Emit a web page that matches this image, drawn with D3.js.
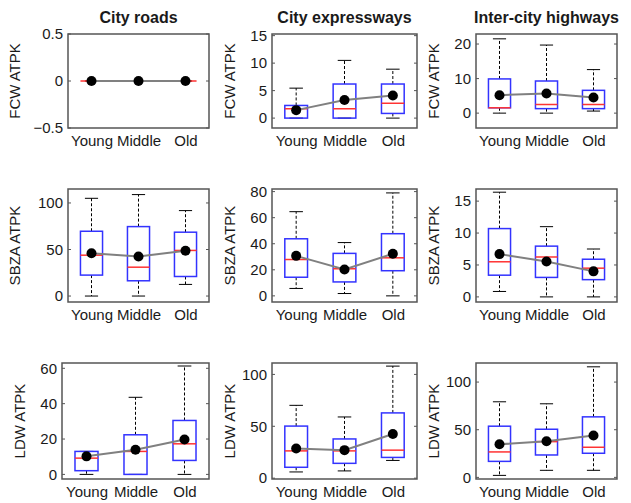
<!DOCTYPE html>
<html>
<head>
<meta charset="utf-8">
<script src="https://cdn.jsdelivr.net/npm/d3@7"></script>
<style>
  body { margin: 0; background: #fff; }
  svg { font-family: "Liberation Sans", Arial, sans-serif; }
</style>
</head>
<body>
<div id="chart"></div>
<script>
// categories and panel titles
const groups = ["Young", "Middle", "Old"];
const roadTypes = ["City roads", "City expressways", "Inter-city highways"];
const measures = ["FCW ATPK", "SBZA ATPK", "LDW ATPK"];

// each row: [lower whisker, q1, median, q3, upper whisker, mean]
const fcwRoads   = [[0, 0, 0, 0, 0, 0], [0, 0, 0, 0, 0, 0], [0, 0, 0, 0, 0, 0]];
const fcwExpress = [[0, 0, 1.7, 2.3, 5.45, 1.45], [0, 0, 1.7, 6.2, 10.5, 3.3], [0, 0.85, 2.7, 6.2, 8.9, 4.1]];
const fcwHighway = [[0, 1.55, 1.55, 9.9, 21.5, 5.2], [0, 1.3, 2.5, 9.3, 19.7, 5.7], [0.6, 1.3, 2.5, 6.6, 12.6, 4.5]];

const sbzaRoads   = [[0, 22.5, 43.9, 69.6, 105, 46], [0, 16.4, 31, 74.6, 109, 42.5], [12.5, 21, 49, 68.6, 91.8, 48.6]];
const sbzaExpress = [[5.7, 14.3, 27.9, 43.8, 64.6, 30.7], [1.8, 10.7, 20.8, 32.6, 40.9, 20.3], [0, 19.3, 29.2, 47.7, 79, 32.3]];
const sbzaHighway = [[0.85, 3.4, 5.5, 10.7, 16.4, 6.7], [0, 3.05, 6.25, 7.95, 11, 5.55], [0, 2.7, 4.5, 5.9, 7.5, 4.0]];

const ldwRoads   = [[0, 2.1, 9.2, 13, 13, 10.2], [0, 0, 13, 22.4, 43.6, 13.9], [0, 7.9, 17.3, 30.5, 61.3, 19.7]];
const ldwExpress = [[6, 10.5, 26.3, 50.2, 70.2, 28.6], [7, 14.3, 26.3, 37.8, 59, 27], [17.1, 20, 27, 62.9, 108, 42.5]];
const ldwHighway = [[2.1, 16.8, 26.7, 53.7, 79.3, 34.7], [7.4, 23.5, 37.5, 50.5, 77.2, 37.9], [7.4, 25.3, 31.6, 63.5, 116, 43.9]];

// y axis limits and ticks per panel
const yLimits = [
  [[-0.5, 0.5], [-1.8, 15.3], [-4.3, 22.9]],
  [[-6.4, 115], [-4.7, 82], [-0.8, 16.9]],
  [[-2.6, 63], [-0.8, 111], [-1.7, 120]]
];
const yTicks = [
  [[-0.5, 0, 0.5], [0, 5, 10, 15], [0, 10, 20]],
  [[0, 50, 100], [0, 20, 40, 60, 80], [0, 5, 10, 15]],
  [[0, 20, 40, 60], [0, 50, 100], [0, 50, 100]]
];

const panelData = [
  [fcwRoads, fcwExpress, fcwHighway],
  [sbzaRoads, sbzaExpress, sbzaHighway],
  [ldwRoads, ldwExpress, ldwHighway]
];

// axes boxes: [left, right, top, bottom]
const boxes = [
  [[68, 209, 34, 128], [272, 417, 34, 128], [476, 617, 34, 128]],
  [[68, 209, 189, 302], [272, 417, 189, 302], [476, 617, 189, 302]],
  [[62, 209, 363, 479], [272, 417, 363, 479], [476, 617, 363, 479]]
];

const W = 631, H = 503;
const svg = d3.select("#chart").append("svg")
  .attr("width", W).attr("height", H);

const frameColor = "#555";
const textColor = "#1a1a1a";

for (let r = 0; r < 3; r++) {
  for (let c = 0; c < 3; c++) {
    const [l, rt, t, b] = boxes[r][c];
    const data = panelData[r][c];

    const x = d3.scaleLinear().domain([0.5, 3.5]).range([l, rt]);
    const y = d3.scaleLinear().domain(yLimits[r][c]).range([b, t]);

    const g = svg.append("g");

    // y axis (labels outside, ticks inside)
    g.append("g")
      .attr("transform", `translate(${l},0)`)
      .call(d3.axisLeft(y).tickValues(yTicks[r][c]).tickSize(0).tickPadding(5)
        .tickFormat(d => d3.format("")(d)))
      .call(a => a.select(".domain").remove())
      .call(a => a.selectAll("text").style("font-size", "15px").attr("fill", textColor));

    // inner tick marks left and right
    g.selectAll(".ytick").data(yTicks[r][c]).enter().append("g")
      .each(function(d) {
        const s = d3.select(this);
        s.append("line").attr("x1", l).attr("x2", l + 3).attr("y1", y(d)).attr("y2", y(d))
          .attr("stroke", frameColor).attr("stroke-width", 1);
        s.append("line").attr("x1", rt).attr("x2", rt - 3).attr("y1", y(d)).attr("y2", y(d))
          .attr("stroke", frameColor).attr("stroke-width", 1);
      });

    // x axis labels
    g.append("g")
      .attr("transform", `translate(0,${b})`)
      .call(d3.axisBottom(x).tickValues([1, 2, 3]).tickSize(0).tickPadding(7)
        .tickFormat(d => groups[d - 1]))
      .call(a => a.select(".domain").remove())
      .call(a => a.selectAll("text").style("font-size", "15px").attr("fill", textColor));

    const clip = "clip" + r + c;
    g.append("clipPath").attr("id", clip).append("rect")
      .attr("x", l).attr("y", t).attr("width", rt - l).attr("height", b - t);

    const plot = g.append("g").attr("clip-path", `url(#${clip})`);
    const bw = 0.47, cw = 0.28;

    data.forEach((d, i) => {
      const cx = x(i + 1);
      const [lo, q1, med, q3, hi] = d;
      // whiskers
      plot.append("line").attr("x1", cx).attr("x2", cx).attr("y1", y(q3)).attr("y2", y(hi))
        .attr("stroke", "#000").attr("stroke-width", 1).attr("stroke-dasharray", "3,2");
      plot.append("line").attr("x1", cx).attr("x2", cx).attr("y1", y(q1)).attr("y2", y(lo))
        .attr("stroke", "#000").attr("stroke-width", 1).attr("stroke-dasharray", "3,2");
      // caps
      [lo, hi].forEach(v => {
        plot.append("line")
          .attr("x1", x(i + 1 - cw / 2)).attr("x2", x(i + 1 + cw / 2))
          .attr("y1", y(v)).attr("y2", y(v))
          .attr("stroke", "#000").attr("stroke-width", 1);
      });
      // box
      if (q3 > q1) {
        plot.append("rect")
          .attr("x", x(i + 1 - bw / 2)).attr("width", x(i + 1 + bw / 2) - x(i + 1 - bw / 2))
          .attr("y", y(q3)).attr("height", y(q1) - y(q3))
          .attr("fill", "none").attr("stroke", "#3333ff").attr("stroke-width", 1.5);
      }
      // median
      plot.append("line")
        .attr("x1", x(i + 1 - bw / 2)).attr("x2", x(i + 1 + bw / 2))
        .attr("y1", y(med)).attr("y2", y(med))
        .attr("stroke", "#ff3333").attr("stroke-width", 1.5);
    });

    // mean line and dots
    const line = d3.line().x((d, i) => x(i + 1)).y(d => y(d[5]));
    plot.append("path").datum(data).attr("d", line)
      .attr("fill", "none").attr("stroke", "#808080").attr("stroke-width", 2);
    plot.selectAll(".mean").data(data).enter().append("circle")
      .attr("cx", (d, i) => x(i + 1)).attr("cy", d => y(d[5])).attr("r", 5)
      .attr("fill", "#000");

    // frame
    g.append("rect").attr("x", l).attr("y", t).attr("width", rt - l).attr("height", b - t)
      .attr("fill", "none").attr("stroke", frameColor).attr("stroke-width", 1.5);

    // y label
    g.append("text")
      .attr("transform", `translate(${l - (c === 0 && r < 2 ? 48 : 37)},${(t + b) / 2}) rotate(-90)`)
      .attr("text-anchor", "middle")
      .style("font-size", "15px").attr("fill", textColor)
      .text(measures[r]);

    if (r === 0) {
      g.append("text")
        .attr("x", (l + rt) / 2).attr("y", 23)
        .attr("text-anchor", "middle")
        .style("font-size", "16px").style("font-weight", "bold").attr("fill", textColor)
        .text(roadTypes[c]);
    }
  }
}
</script>
</body>
</html>
